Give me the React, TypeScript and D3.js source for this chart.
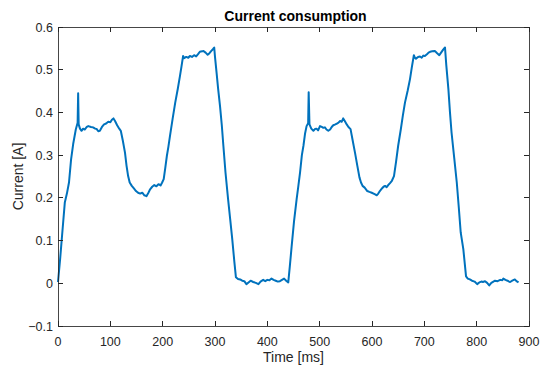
import React from "react";
import * as d3 from "d3";

const times: number[] = [
  0, 4, 9, 13, 17, 21, 25, 29, 34, 37.5, 38.5, 39.5, 42, 45, 48, 51, 55, 58, 63, 67, 71, 74, 77, 80, 84, 88, 92, 96, 100, 103, 106, 109, 113, 117, 120, 124, 128, 131, 134, 137, 141, 145, 149, 153, 157, 161, 165, 169, 172, 176, 180, 184, 188, 192, 196, 199, 202, 205, 208, 211, 214, 219, 224, 229, 233, 236, 239, 241, 245, 249, 252, 256, 260, 264, 268, 271, 275, 278, 282, 286, 289, 293, 296, 298.5, 300, 303, 306, 309.6, 313, 316, 320, 325, 329, 333, 337, 340, 344, 348, 352, 356, 360, 364, 368, 373, 378, 383, 387, 392, 396, 400, 404, 408, 412, 416, 420, 424, 428, 432, 436, 440,
  443, 446.5, 451, 456, 459, 462.5, 466, 469, 472, 475, 478, 479, 480.5, 484, 488, 491, 494, 497, 500.6, 504, 507, 510, 513, 516.5, 520, 523, 526, 530, 533, 536, 539, 542, 545, 548, 551.7, 555, 559, 563, 567.5, 572, 576, 579, 582, 586, 591, 595, 599.5, 603, 606, 609, 612, 615, 619, 622, 625, 628, 631, 634, 638, 642, 646, 650, 655, 659, 663, 668, 672.6, 676, 680, 682, 684, 688, 691.7, 695, 698, 701, 705, 708, 711, 715, 720, 724, 728.6, 732, 736, 739.5, 742, 746, 749, 752, 757, 762, 766, 769.5, 774.5, 779.7, 783, 787, 791, 796, 801, 805, 809, 812, 816, 820, 824, 828, 832, 835, 840, 845, 849, 851, 855, 859, 862, 864, 868, 873, 876, 880,
];

const currents: number[] = [
  0.003, 0.056, 0.13, 0.189, 0.21, 0.236, 0.29, 0.326, 0.36, 0.376, 0.445, 0.372, 0.362, 0.357, 0.362, 0.36, 0.366, 0.368, 0.366, 0.365, 0.362, 0.361, 0.356, 0.357, 0.366, 0.372, 0.374, 0.378, 0.377, 0.383, 0.386, 0.38, 0.37, 0.362, 0.357, 0.333, 0.306, 0.275, 0.251, 0.236, 0.228, 0.222, 0.216, 0.212, 0.21, 0.212, 0.206, 0.204, 0.21, 0.22, 0.226, 0.23, 0.227, 0.232, 0.229, 0.236, 0.244, 0.27, 0.298, 0.32, 0.345, 0.385, 0.423, 0.456, 0.485, 0.508, 0.532, 0.527, 0.53, 0.528, 0.532, 0.53, 0.534, 0.531, 0.537, 0.542, 0.543, 0.544, 0.54, 0.535, 0.538, 0.544, 0.548, 0.552, 0.53, 0.493, 0.455, 0.415, 0.37, 0.322, 0.26, 0.197, 0.15, 0.103, 0.05, 0.014, 0.01, 0.009, 0.006, 0.005, -0.002, 0.002, 0.006, 0.003, 0.001, -0.002, 0.004, 0.008, 0.005, 0.008, 0.007, 0.011, 0.008, 0.006, 0.004, 0.005, 0.008, 0.011, 0.006, 0.002,
  0.04, 0.087, 0.145, 0.197, 0.225, 0.259, 0.3, 0.322, 0.35, 0.368, 0.375, 0.447, 0.372, 0.362, 0.357, 0.361, 0.362, 0.358, 0.368, 0.366, 0.364, 0.365, 0.36, 0.357, 0.36, 0.366, 0.37, 0.372, 0.374, 0.376, 0.38, 0.378, 0.386, 0.38, 0.372, 0.366, 0.361, 0.335, 0.306, 0.275, 0.248, 0.236, 0.228, 0.224, 0.216, 0.214, 0.212, 0.21, 0.208, 0.206, 0.21, 0.216, 0.222, 0.226, 0.228, 0.225, 0.23, 0.234, 0.24, 0.251, 0.285, 0.322, 0.36, 0.393, 0.423, 0.45, 0.478, 0.505, 0.534, 0.528, 0.526, 0.53, 0.531, 0.528, 0.533, 0.532, 0.536, 0.54, 0.542, 0.543, 0.544, 0.539, 0.534, 0.54, 0.547, 0.552, 0.51, 0.454, 0.4, 0.353, 0.295, 0.236, 0.175, 0.119, 0.08, 0.016, 0.011, 0.009, 0.006, 0.004, -0.002, 0.002, 0.004, 0.003, 0.005, 0.001, -0.005, 0.001, 0.004, 0.006, 0.005, 0.008, 0.007, 0.011, 0.008, 0.006, 0.004, 0.003, 0.006, 0.009, 0.005, 0.002,
];

const xTicks: number[] = [0, 100, 200, 300, 400, 500, 600, 700, 800, 900];
const yTicks: number[] = [-0.1, 0, 0.1, 0.2, 0.3, 0.4, 0.5, 0.6];

const W = 542;
const H = 370;
const L = 58;
const R = 529;
const T = 27;
const B = 326;
const AX = "#262626";
const FONT = "'Liberation Sans', Arial, Helvetica, sans-serif";

export default function App() {
  const x = d3.scaleLinear().domain([0, 900]).range([L, R]);
  const y = d3.scaleLinear().domain([-0.1, 0.6]).range([B, T]);
  const pts: [number, number][] = times.map((t, i) => [t, currents[i]]);
  const line = d3
    .line<[number, number]>()
    .x((d) => x(d[0]))
    .y((d) => y(d[1]));
  const tl = 5;
  return (
    <svg
      width={W}
      height={H}
      style={{ position: "absolute", left: 0, top: 0, background: "#fff" }}
      fontFamily={FONT}
    >
      <rect x={0} y={0} width={W} height={H} fill="#fff" />
      <path d={line(pts) || ""} fill="none" stroke="#0072BD" strokeWidth={2} strokeLinejoin="round" />
      <rect x={L} y={T} width={R - L} height={B - T} fill="none" stroke={AX} strokeWidth={1} opacity={0.85} shapeRendering="crispEdges" />
      {xTicks.map((t) => (
        <g key={"x" + t}>
          <line x1={x(t)} x2={x(t)} y1={B} y2={B - tl} stroke={AX} shapeRendering="crispEdges" />
          <line x1={x(t)} x2={x(t)} y1={T} y2={T + tl} stroke={AX} shapeRendering="crispEdges" />
          <text x={x(t)} y={346} textAnchor="middle" fontSize={12.5} fill={AX}>
            {t}
          </text>
        </g>
      ))}
      {yTicks.map((t) => (
        <g key={"y" + t}>
          <line x1={L} x2={L + tl} y1={y(t)} y2={y(t)} stroke={AX} shapeRendering="crispEdges" />
          <line x1={R} x2={R - tl} y1={y(t)} y2={y(t)} stroke={AX} shapeRendering="crispEdges" />
          <text x={53} y={y(t) + 4.5} textAnchor="end" fontSize={12.5} fill={AX}>
            {d3.format(".1~f")(t)}
          </text>
        </g>
      ))}
      <text x={(L + R) / 2 + 2} y={21} textAnchor="middle" fontSize={14} fontWeight="bold" fill="#000">
        Current consumption
      </text>
      <text x={(L + R) / 2} y={362} textAnchor="middle" fontSize={14} fill={AX}>
        Time [ms]
      </text>
      <text
        transform={`translate(23,${(T + B) / 2}) rotate(-90)`}
        textAnchor="middle"
        fontSize={14}
        fill={AX}
      >
        Current [A]
      </text>
    </svg>
  );
}
